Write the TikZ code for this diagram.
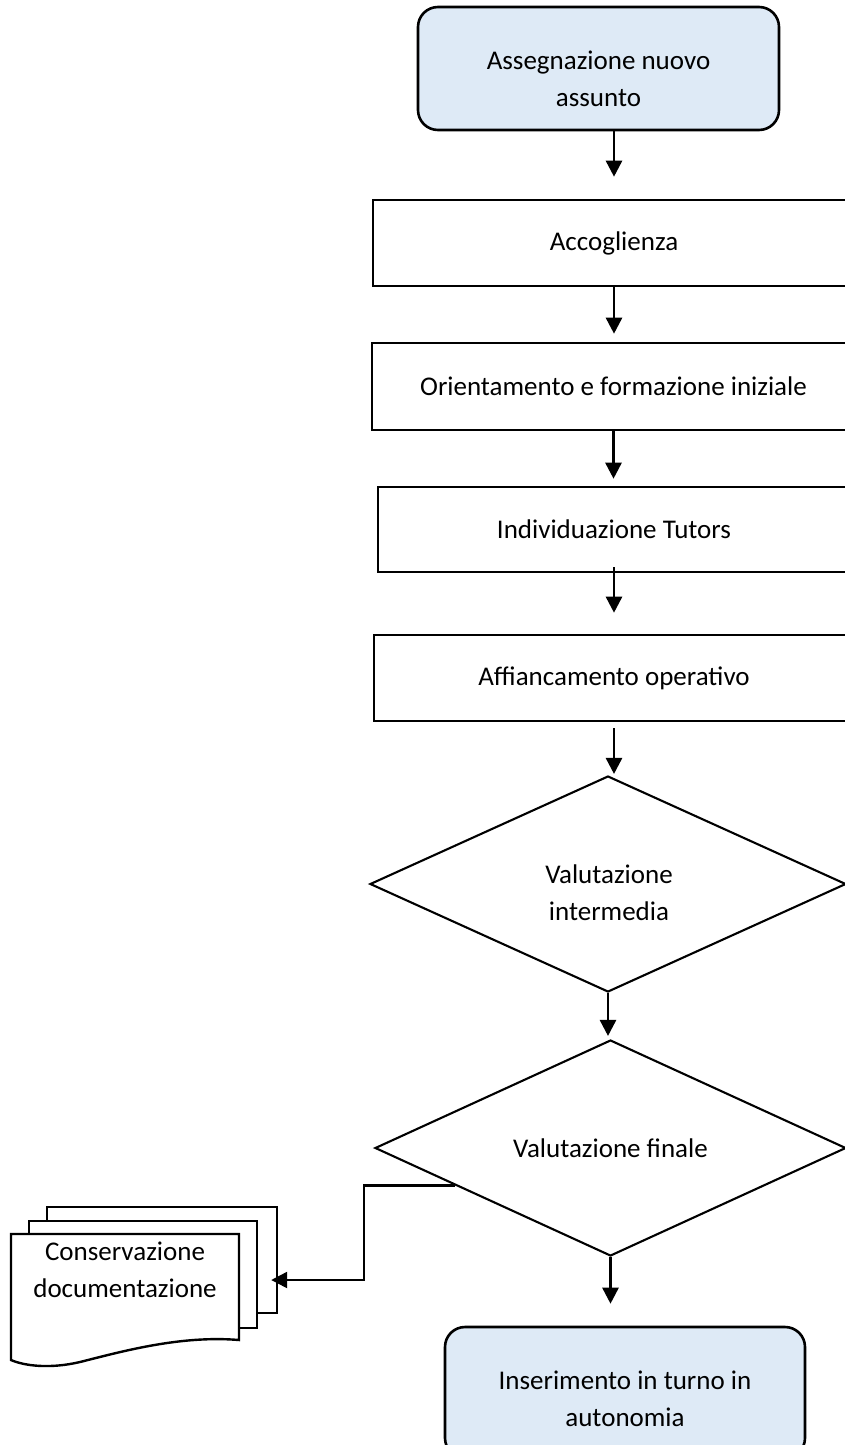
\documentclass[tikz,border=0pt]{standalone}
\usepackage{fontspec}
\setmainfont{Carlito}
\usetikzlibrary{shapes.geometric,arrows.meta,calc}
\definecolor{lblue}{HTML}{DEEAF6}
\begin{document}
\begin{tikzpicture}[x=1pt,y=-1pt,
  every node/.style={font=\fontsize{27}{37}\selectfont},
  procbox/.style={draw, line width=2.6pt, minimum height=86pt, inner sep=0pt},
  roundbox/.style={draw, line width=2.6pt, fill=lblue, rounded corners=20pt, inner sep=0pt},
  decision/.style={draw, diamond, line width=2.1pt, inner sep=0pt, minimum width=476pt, minimum height=216pt},
  txt/.style={align=center, inner sep=0pt},
  arr/.style={-{Triangle[width=16pt,length=16pt]}, line width=2.6pt},
  docpage/.style={draw, fill=white, line width=2.4pt}
]
\useasboundingbox (0,0) rectangle (845,1445);
\clip (0,0) rectangle (845,1445);

% start
\node[roundbox, minimum width=361pt, minimum height=123pt] (start) at (598.5,68.5) {};
\node[txt] (startt) at (598.5,79) {Assegnazione nuovo\\assunto};

% process boxes
\node[procbox, minimum width=482pt] (acc) at (614,243) {Accoglienza};
\node[procbox, minimum width=483pt, minimum height=87pt] (ori) at (613.5,386.5) {Orientamento e formazione iniziale};
\node[procbox, minimum width=472pt, minimum height=85pt] (ind) at (614,529.5) {Individuazione Tutors};
\node[procbox, minimum width=480pt] (aff) at (614,678) {Affiancamento operativo};

% decisions
\node[decision] (d1) at (608,884) {};
\node[txt] (d1t) at (609,893) {Valutazione\\intermedia};
\node[decision, minimum width=471pt] (d2) at (610.5,1148) {Valutazione finale};

% end
\node[roundbox, minimum width=360pt, minimum height=131pt] (fin) at (625,1392.5) {};
\node[txt] (fint) at (625,1398.5) {Inserimento in turno in\\autonomia};

% multi document
\node[docpage, minimum width=230pt, minimum height=106pt, inner sep=0pt] (back) at (162,1260) {};
\node[docpage, minimum width=228pt, minimum height=107pt, inner sep=0pt] (mid) at (143,1274.5) {};
\draw[docpage] (11,1234) -- (239,1234) -- (239,1340)
  .. controls (180,1335) and (120,1352) .. (80,1362)
  .. controls (50,1369) and (25,1366) .. (11,1360) -- cycle;
\node[txt] (doc) at (125,1270) {Conservazione\\documentazione};

% connectors
\draw[arr, shorten >=22pt] (start.south -| acc.north) -- (acc.north);
\draw[arr, shorten >=8pt] (acc.south) -- (acc.south |- ori.north);
\draw[arr, shorten >=7pt] (ori.south) -- (ori.south |- ind.north);
\draw[arr, shorten <=-6pt, shorten >=21pt] (ind.south) -- (ind.south |- aff.north);
\draw[arr, shorten <=6pt, shorten >=1pt] (aff.south) -- (aff.south |- d1.north);
\draw[arr, shorten >=3pt] (d1.south) -- (d1.south |- d2.north);
\draw[arr, shorten >=22pt] (d2.south) -- (d2.south |- fin.north);

\coordinate (bstart) at ($(d2.west)!0.343!(d2.south)$);
\draw[arr, line width=2.4pt, shorten >=-7pt] (bstart) -- ++(-91,0) |- ([yshift=-20pt]back.east);
\end{tikzpicture}
\end{document}
